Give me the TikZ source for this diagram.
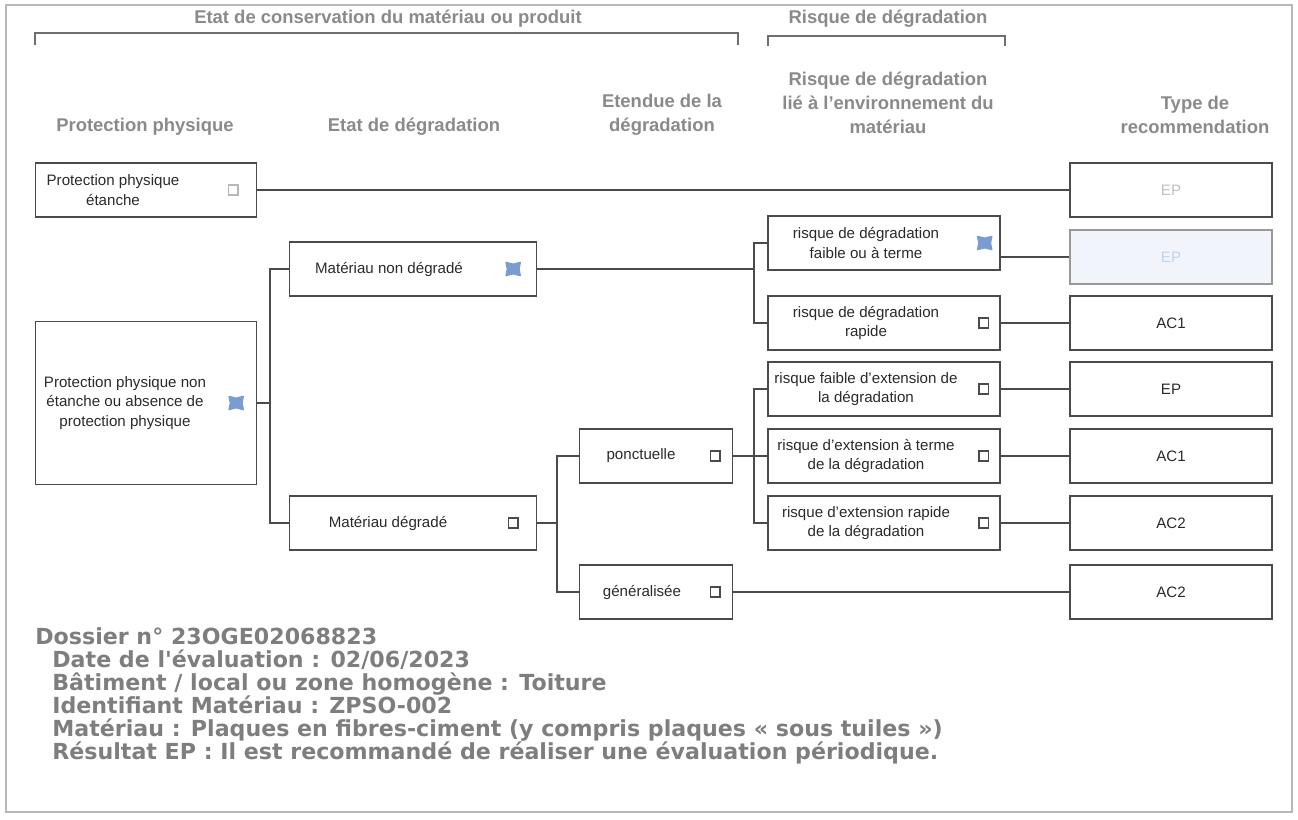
\documentclass[tikz,border=0pt]{standalone}
\usepackage{fontspec}
\setmainfont{Liberation Sans}
\newfontfamily\infofont{DejaVu Sans}

\definecolor{framegray}{HTML}{B8B8B8}
\definecolor{headgray}{HTML}{8A8A8A}
\definecolor{linegray}{HTML}{4A4A4A}
\definecolor{boxtext}{HTML}{2A2A2A}
\definecolor{crossblue}{HTML}{7A9CD2}
\definecolor{paleblue}{HTML}{F1F5FB}
\definecolor{infogray}{HTML}{7E7E7E}

\begin{document}
\begin{tikzpicture}[x=0.02cm, y=-0.02cm, % one unit = one pixel of the grid
    box/.style={draw=linegray, line width=0.8pt, minimum height=1.08cm, inner sep=0pt},
    protbox/.style={box, minimum width=4.42cm},
    etatbox/.style={box, minimum width=4.94cm},
    extbox/.style={box, minimum width=3.06cm},
    riskbox/.style={box, minimum width=4.64cm},
    recobox/.style={box, minimum width=4.04cm, text=boxtext, font=\fontsize{8.6}{11}\selectfont},
    txt/.style={align=center, inner sep=0pt, text=boxtext, font=\fontsize{8.6}{11}\selectfont},
    head/.style={align=center, inner sep=0pt, text=headgray, font=\bfseries\fontsize{10.5}{13.6}\selectfont},
    info/.style={anchor=base west, inner sep=0pt, text=infogray, font=\infofont\bfseries\fontsize{12.6}{13}\selectfont},
    conn/.style={draw=linegray, line width=0.7pt},
    bracket/.style={draw=linegray!80, line width=0.7pt},
    chkbox/.style={draw=linegray, line width=1pt, minimum size=0.19cm, inner sep=0pt},
    pics/cross/.style={code={
        \fill[crossblue, rounded corners=0.5pt] (-8,-7.5) -- (0,-5.5) -- (8,-7.5) -- (6.5,0)
            -- (8,7.5) -- (0,5.5) -- (-8,7.5) -- (-6.5,0) -- cycle;}}]
    \useasboundingbox (0,0) rectangle (1298,819);
    \draw[framegray, line width=0.9pt] (6,5) rectangle (1292,812);

    % Group titles
    \node[head] (h-cons) at (388,19) {Etat de conservation du matériau ou produit};
    \draw[bracket] (35,45) -- (35,33) -- (738,33) -- (738,45);
    \node[head] (h-risk) at (888,19) {Risque de dégradation};
    \draw[bracket] (768,46) -- (768,36) -- (1005,36) -- (1005,46);

    % Column titles
    \node[head] (c-prot) at (145,127) {Protection physique};
    \node[head] (c-etat) at (414,127) {Etat de dégradation};
    \node[head] (c-ext) at (662,115) {Etendue de la\\dégradation};
    \node[head] (c-risk) at (888,103) {Risque de dégradation\\lié à l'environnement du\\matériau};
    \node[head] (c-reco) at (1195,115) {Type de\\recommendation};

    % Protection physique
    \node[protbox] (pe) at (146,190) {};
    \node[txt] (pe-t) at (113,190) {Protection physique\\étanche};
    \node[chkbox, draw=framegray] (pe-c) at ([shift={(-24,0)}]pe.east) {};

    \node[protbox, minimum height=3.26cm] (pne) at (146,403) {};
    \node[txt] (pne-t) at (125,403) {Protection physique non\\étanche ou absence de\\protection physique};
    \pic (pne-x) at ([shift={(-21,0)}]pne.east) {cross};

    % Etat de dégradation
    \node[etatbox] (mnd) at (413,269) {};
    \node[txt] (mnd-t) at (389,269) {Matériau non dégradé};
    \pic (mnd-x) at ([shift={(-24,0)}]mnd.east) {cross};

    \node[etatbox] (md) at (413,523) {};
    \node[txt] (md-t) at (388,523) {Matériau dégradé};
    \node[chkbox] (md-c) at ([shift={(-24,0)}]md.east) {};

    % Etendue
    \node[extbox] (ponc) at (656,456) {};
    \node[txt] (ponc-t) at (641,456) {ponctuelle};
    \node[chkbox] (ponc-c) at ([shift={(-18,0)}]ponc.east) {};

    \node[extbox] (gen) at (656,592) {};
    \node[txt] (gen-t) at (642,592) {généralisée};
    \node[chkbox] (gen-c) at ([shift={(-18,0)}]gen.east) {};

    % Risque
    \node[riskbox] (r1) at (884,243) {};
    \node[txt] (r1-t) at (866,243) {risque de dégradation\\faible ou à terme};
    \pic (r1-x) at ([shift={(-16,0)}]r1.east) {cross};

    \node[riskbox] (r2) at (884,323) {};
    \node[txt] (r2-t) at (866,323) {risque de dégradation\\rapide};
    \node[chkbox] (r2-c) at ([shift={(-17,0)}]r2.east) {};

    \node[riskbox] (r3) at (884,389) {};
    \node[txt] (r3-t) at (866,389) {risque faible d'extension de\\la dégradation};
    \node[chkbox] (r3-c) at ([shift={(-17,0)}]r3.east) {};

    \node[riskbox] (r4) at (884,456) {};
    \node[txt] (r4-t) at (866,456) {risque d'extension à terme\\de la dégradation};
    \node[chkbox] (r4-c) at ([shift={(-17,0)}]r4.east) {};

    \node[riskbox] (r5) at (884,523) {};
    \node[txt] (r5-t) at (866,523) {risque d'extension rapide\\de la dégradation};
    \node[chkbox] (r5-c) at ([shift={(-17,0)}]r5.east) {};

    % Type de recommendation
    \node[recobox, text=black!25] (t1) at (1171,190) {EP};
    \node[recobox, draw=black!40, fill=paleblue, text=crossblue!45] (t2) at (1171,257) {EP};
    \node[recobox] (t3) at (1171,323) {AC1};
    \node[recobox] (t4) at (1171,389) {EP};
    \node[recobox] (t5) at (1171,456) {AC1};
    \node[recobox] (t6) at (1171,523) {AC2};
    \node[recobox] (t7) at (1171,592) {AC2};

    % Branches
    \coordinate (j1) at (270,403);
    \coordinate (j2) at (557,523);
    \coordinate (j3) at (754,269);
    \coordinate (j4) at (754,456);

    \draw[conn] (pe.east) -- (t1.west);
    \draw[conn] (pne.east) -- (j1);
    \draw[conn] (mnd.west) -| (j1) |- (md.west);
    \draw[conn] (md.east) -- (j2);
    \draw[conn] (ponc.west) -| (j2) |- (gen.west);
    \draw[conn] (mnd.east) -- (j3);
    \draw[conn] (r1.west) -| (j3) |- (r2.west);
    \draw[conn] (ponc.east) -- (j4) -- (r4.west);
    \draw[conn] (r3.west) -| (j4) |- (r5.west);
    \draw[conn] (r1.east |- t2.west) -- (t2.west);
    \draw[conn] (r2.east) -- (t3.west);
    \draw[conn] (r3.east) -- (t4.west);
    \draw[conn] (r4.east) -- (t5.west);
    \draw[conn] (r5.east) -- (t6.west);
    \draw[conn] (gen.east) -- (t7.west);

    % Fiche
    \node[info] (dos) at (35,644) {Dossier n° 23OGE02068823};
    \node[info] (date) at (52,667) {Date de l'évaluation : 02/06/2023};
    \node[info] (bat) at (52,690) {Bâtiment / local ou zone homogène : Toiture};
    \node[info] (ident) at (52,713) {Identifiant Matériau : ZPSO-002};
    \node[info] (mat) at (52,736) {Matériau : Plaques en fibres-ciment (y compris plaques « sous tuiles »)};
    \node[info] (res) at (52,759) {Résultat EP : Il est recommandé de réaliser une évaluation périodique.};
\end{tikzpicture}
\end{document}
